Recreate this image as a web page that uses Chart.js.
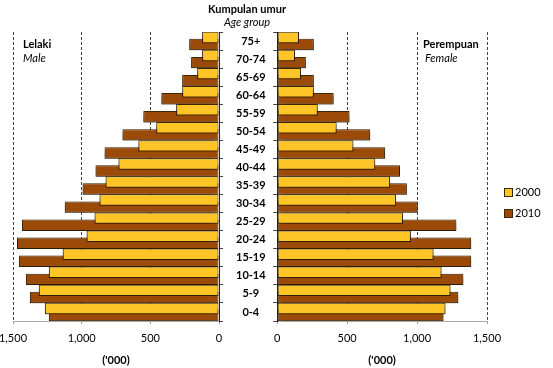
<!DOCTYPE html>
<html>
<head>
<meta charset="utf-8">
<script src="https://cdn.jsdelivr.net/npm/chart.js@4.4.1/dist/chart.umd.min.js"></script>
<style>
  body { margin: 0; background: #fff; font-family: Lato, sans-serif; color: #000; }
  #wrap { position: relative; width: 553px; height: 368px; overflow: hidden; }
  .cv { position: absolute; top: 0; }
  .txt { position: absolute; font-size: 11px; white-space: nowrap; line-height: 13px; }
  .b { font-weight: bold; }
  .i { font-style: italic; }
  .leg { position: absolute; left: 504px; font-size: 11px; line-height: 12px; }
  .leg span { display: inline-block; width: 7px; height: 7px; border: 1px solid #3b2a0a; margin-right: 2px; vertical-align: -1px; }
</style>
</head>
<body>
<div id="wrap">
  <div class="cv" style="left:0;width:275px;height:368px"><canvas id="male"></canvas></div>
  <div class="cv" style="left:266px;width:287px;height:368px"><canvas id="female"></canvas></div>
  <div class="txt b" style="left:247px;top:2px;transform:translateX(-50%)">Kumpulan umur</div>
  <div class="txt i" style="left:247px;top:15px;transform:translateX(-50%)">Age group</div>
  <div class="txt b" style="left:23px;top:37px">Lelaki</div>
  <div class="txt i" style="left:23px;top:51px">Male</div>
  <div class="txt b" style="left:423px;top:37px">Perempuan</div>
  <div class="txt i" style="left:425px;top:51px">Female</div>
  <div id="legend"></div>
</div>
<script>
const ageGroups = ['75+', '70-74', '65-69', '60-64', '55-59', '50-54', '45-49', '40-44',
  '35-39', '30-34', '25-29', '20-24', '15-19', '10-14', '5-9', '0-4'];
const years = ['2000', '2010'];
const male2000 = [123, 123, 159, 268, 312, 457, 587, 732, 826, 870, 906, 964, 1138, 1239, 1312, 1268];
const male2010 = [217, 203, 268, 420, 551, 703, 833, 899, 993, 1123, 1435, 1471, 1457, 1406, 1377, 1239];
const female2000 = [156, 127, 170, 262, 290, 425, 545, 701, 807, 850, 899, 956, 1118, 1175, 1239, 1203];
const female2010 = [262, 205, 262, 404, 517, 665, 772, 878, 927, 1005, 1281, 1387, 1387, 1331, 1295, 1189];
const xTicks = [0, 500, 1000, 1500];

const colors = ['#FFC426', '#9C4A08'];
const edge = '#3b2a0a';
const font = { family: 'Lato', size: 11 };

// soft drop shadow behind the bars, thrown outward on each side
function shadowPlugin(dx) {
  return {
    id: 'shadow',
    beforeDatasetsDraw(chart) {
      const c = chart.ctx;
      c.save();
      c.shadowColor = 'rgba(0,0,0,0.4)';
      c.shadowBlur = 4;
      c.shadowOffsetX = dx;
      c.shadowOffsetY = 2;
    },
    afterDatasetsDraw(chart) { chart.ctx.restore(); }
  };
}

function makeDatasets(a, b) {
  return [a, b].map((d, i) => ({
    label: years[i],
    data: d,
    backgroundColor: colors[i],
    borderColor: edge,
    borderWidth: 1,
    borderSkipped: false,
    categoryPercentage: 0.78,
    barPercentage: 1.62
  }));
}

function xScale(reverse) {
  return {
    type: 'linear',
    reverse: reverse,
    min: 0,
    max: 1500,
    afterBuildTicks: s => { s.ticks = xTicks.map(v => ({ value: v })); },
    ticks: {
      font: font, color: '#000', padding: 8,
      callback: v => v.toLocaleString('en-US')
    },
    grid: {
      color: c => (c.tick && c.tick.value === 0) ? 'rgba(0,0,0,0)' : '#444',
      tickColor: '#999',
      tickLength: 3,
      lineWidth: 1
    },
    border: { display: true, color: '#aaa', dash: [3, 2] },
    title: {
      display: true, text: "('000)", color: '#000',
      font: { family: 'Lato', size: 11, weight: 'bold' },
      padding: { top: 4, bottom: 1 }
    },
    afterFit: s => { s.height = 47; }
  };
}

function yScale(side, showLabels, width) {
  return {
    position: side,
    grid: {
      display: true, drawOnChartArea: false, drawTicks: true,
      tickLength: 4, color: '#444', offset: true
    },
    border: { display: true, color: '#222', width: 1 },
    ticks: {
      display: showLabels,
      font: { family: 'Lato', size: 11, weight: 'bold' },
      color: '#000', crossAlign: 'center', padding: 13
    },
    afterFit: s => { s.width = width; }
  };
}

new Chart(document.getElementById('male'), {
  type: 'bar',
  data: { labels: ageGroups, datasets: makeDatasets(male2000, male2010) },
  options: {
    indexAxis: 'y',
    responsive: true,
    maintainAspectRatio: false,
    animation: false,
    layout: { padding: { left: 13, top: 32, right: 0, bottom: 0 } },
    scales: { x: xScale(true), y: yScale('right', true, 56) },
    plugins: { legend: { display: false }, tooltip: { enabled: false } }
  },
  plugins: [shadowPlugin(-3)]
});

new Chart(document.getElementById('female'), {
  type: 'bar',
  data: { labels: ageGroups, datasets: makeDatasets(female2000, female2010) },
  options: {
    indexAxis: 'y',
    responsive: true,
    maintainAspectRatio: false,
    animation: false,
    layout: { padding: { left: 0, top: 32, right: 66, bottom: 0 } },
    scales: { x: xScale(false), y: yScale('left', false, 5) },
    plugins: { legend: { display: false }, tooltip: { enabled: false } }
  },
  plugins: [shadowPlugin(3)]
});

// legend built from the series
document.getElementById('legend').innerHTML = years.map((y, i) =>
  `<div class="leg" style="top:${186 + i * 21}px"><span style="background:${colors[i]}"></span>${y}</div>`
).join('');
</script>
</body>
</html>
